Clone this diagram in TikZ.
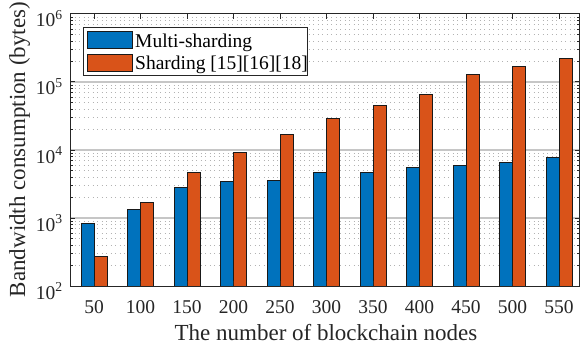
\documentclass[tikz,border=0pt]{standalone}
\usepackage{fontspec}
\setmainfont{Liberation Serif}
\definecolor{mblue}{RGB}{0,114,189}
\definecolor{morange}{RGB}{217,83,25}
\definecolor{axisc}{RGB}{38,38,38}
\begin{document}
\begin{tikzpicture}[x=1pt,y=-1pt,
  majgrid/.style={draw=gray!45,line width=1.2pt},
  mingrid/.style={draw=gray!60,line width=0.8pt,dash pattern=on 0.8pt off 3.7pt},
  axisline/.style={draw=axisc,line width=1pt},
  barb/.style={draw=black!90,line width=0.9pt,fill=mblue},
  baro/.style={draw=black!90,line width=0.9pt,fill=morange},
  ticklab/.style={font=\fontsize{19.5}{20}\selectfont,inner sep=0pt,text=axisc},
  axlab/.style={font=\fontsize{23}{24}\selectfont,inner sep=0pt,text=axisc},
  leglab/.style={font=\fontsize{19.5}{20}\selectfont,inner sep=0pt,anchor=base west,text=black},
]
\useasboundingbox (0,0) rectangle (580,350);
% minor grid
\foreach \d in {0,1,2,3}{
  \foreach \l in {0.30103,0.47712,0.60206,0.69897,0.77815,0.84510,0.90309,0.95424}{
    \draw[mingrid] (70,{286-68*(\d+\l)}) -- (580,{286-68*(\d+\l)});
  }
}
% major grid
\foreach \d in {1,2,3}{
  \draw[majgrid] (70,{286-68*\d}) -- (580,{286-68*\d});
}
% bars: index / blue top / orange top
\foreach \i/\bt/\ot in {1/223/256, 2/209/202.3, 3/187.7/172.3, 4/181/152.3, 5/180.6/134.3,
                       6/172.3/118.3, 7/172.7/105.3, 8/167/94, 9/165.7/74.3, 10/162.3/66, 11/157.3/58.3}{
  \pgfmathsetmacro\cx{94+(\i-1)*46.5}
  \draw[barb] ({\cx-13},286) rectangle (\cx,\bt);
  \draw[baro] (\cx,286) rectangle ({\cx+13},\ot);
}
% axes frame
\draw[axisline] (70,14) rectangle (579.5,286);
% x ticks
\foreach \i in {1,...,11}{
  \pgfmathsetmacro\cx{94+(\i-1)*46.5}
  \draw[axisline] (\cx,14) -- (\cx,19);
  \draw[axisline] (\cx,286) -- (\cx,281);
  \pgfmathtruncatemacro\lab{\i*50}
  \node[ticklab,anchor=base] (xt\i) at (\cx,313) {\lab};
}
% y ticks
\foreach \d in {0,1,2,3,4}{
  \draw[axisline] (70,{286-68*\d}) -- (75,{286-68*\d});
  \draw[axisline] (579.5,{286-68*\d}) -- (574.5,{286-68*\d});
}
\foreach \d in {0,1,2,3}{
  \foreach \l in {0.30103,0.47712,0.60206,0.69897,0.77815,0.84510,0.90309,0.95424}{
    \draw[axisc,line width=0.8pt] (70,{286-68*(\d+\l)}) -- (73,{286-68*(\d+\l)});
    \draw[axisc,line width=0.8pt] (579.5,{286-68*(\d+\l)}) -- (576.5,{286-68*(\d+\l)});
  }
}
\foreach \e/\d in {2/0,3/1,4/2,5/3,6/4}{
  \node[ticklab,anchor=base east] (yt\e) at (63,{286-68*\d+13}) {10\textsuperscript{\e}};
}
% axis labels
\node[axlab,anchor=base] (xlabel) at (326,340) {The number of blockchain nodes};
\node[axlab,anchor=base,rotate=90] (ylabel) at (25,149.5) {Bandwidth consumption (bytes)};
% legend
\node[draw=axisc,fill=white,line width=0.9pt,anchor=north west,minimum width=224.3pt,minimum height=48.3pt,inner sep=0pt] (legend) at (82.7,26.7) {};
\node[draw=black!90,line width=0.9pt,fill=mblue,anchor=north west,minimum width=45pt,minimum height=17pt,inner sep=0pt] (swb) at (87.3,30.7) {};
\node[draw=black!90,line width=0.9pt,fill=morange,anchor=north west,minimum width=45pt,minimum height=16.7pt,inner sep=0pt] (swo) at (87.3,54.3) {};
\node[leglab] (lb) at (135,47.5) {Multi-sharding};
\node[leglab] (lo) at (135,69.5) {Sharding [15][16][18]};
\end{tikzpicture}
\end{document}
